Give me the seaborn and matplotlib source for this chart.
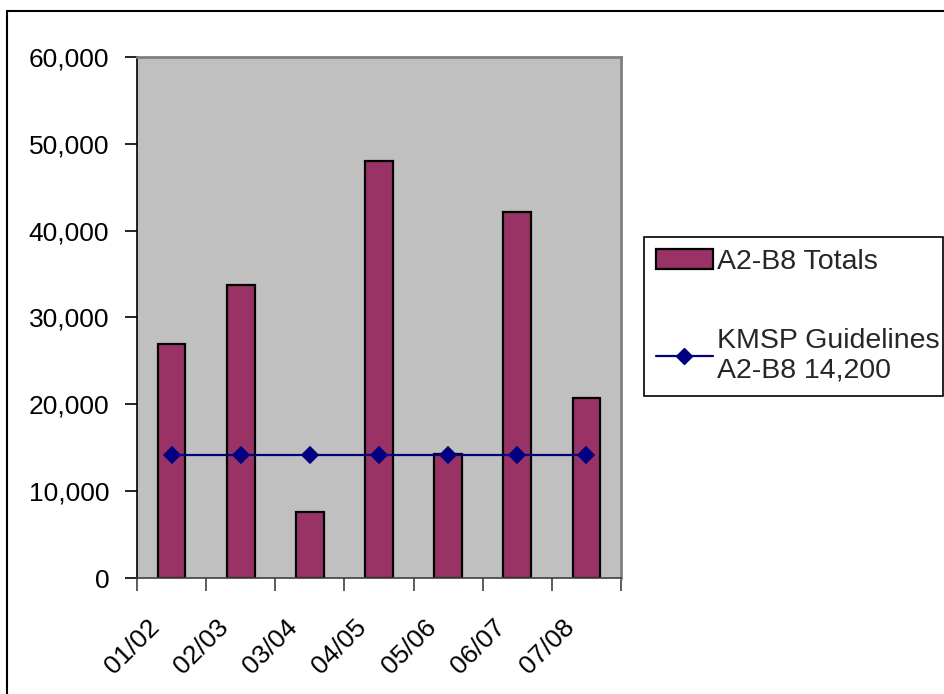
import matplotlib
matplotlib.use("Agg")
import matplotlib.pyplot as plt
import matplotlib.transforms as mtransforms
from matplotlib.lines import Line2D
from matplotlib.patches import Patch
from matplotlib.ticker import FuncFormatter, FixedLocator
import seaborn as sns
import pandas as pd

# Season totals and the KMSP guideline level
seasons = ["01/02", "02/03", "03/04", "04/05", "05/06", "06/07", "07/08"]
totals = [27000, 33700, 7600, 48000, 14300, 42100, 20700]
guideline = [14200, 14200, 14200, 14200, 14200, 14200, 14200]
y_ticks = [0, 10000, 20000, 30000, 40000, 50000, 60000]

bar_label = "A2-B8 Totals"
line_label = "KMSP Guidelines\nA2-B8 14,200"

sns.set_theme(style="white")
plt.rcParams["font.family"] = ["Liberation Sans", "DejaVu Sans"]

df = pd.DataFrame({"season": seasons, "total": totals, "guide": guideline})

W, H = 944, 694
fig = plt.figure(figsize=(W / 100, H / 100), dpi=100)
fig.patch.set_facecolor("white")
ax = fig.add_axes([137 / W, 1 - 578 / H, (621 - 137) / W, (578 - 57) / H])
ax.set_facecolor("#C0C0C0")

sns.barplot(data=df, x="season", y="total", color="#993366", saturation=1,
            edgecolor="black", linewidth=1.6, width=0.4, ax=ax, zorder=2)
sns.pointplot(data=df, x="season", y="guide", color="#000080", markers="D",
              markersize=8, linewidth=1.6, errorbar=None, ax=ax, zorder=3)

ax.set_xlim(-0.5, len(seasons) - 0.5)
ax.set_ylim(0, 60000)
ax.set_xlabel("")
ax.set_ylabel("")
ax.grid(False)

ax.set_yticks(y_ticks)
ax.yaxis.set_major_formatter(FuncFormatter(lambda v, p: f"{int(v):,}"))
ax.tick_params(axis="y", which="major", direction="out", length=9, width=1.2,
               color="black", pad=11, labelsize=19, left=True, labelcolor="black")

# Category boundaries carry the tick marks; labels sit at category centres
ax.xaxis.set_minor_locator(FixedLocator([i - 0.5 for i in range(len(seasons) + 1)]))
ax.tick_params(axis="x", which="minor", direction="out", length=9, width=1.2,
               color="#404040", bottom=True)
ax.tick_params(axis="x", which="major", length=0, pad=31, labelsize=19,
               labelcolor="black")
offset = mtransforms.ScaledTranslation(-16 / 100, -2 / 100, fig.dpi_scale_trans)
for lab in ax.get_xticklabels():
    lab.set_rotation(45)
    lab.set_ha("right")
    lab.set_va("center")
    lab.set_rotation_mode("anchor")
    lab.set_transform(lab.get_transform() + offset)

for side in ["top", "right", "bottom", "left"]:
    ax.spines[side].set_visible(True)
ax.spines["left"].set_color("black")
ax.spines["left"].set_linewidth(1.2)
ax.spines["bottom"].set_color("#404040")
ax.spines["bottom"].set_linewidth(1.2)
ax.spines["top"].set_color("#808080")
ax.spines["top"].set_linewidth(2)
ax.spines["right"].set_color("#808080")
ax.spines["right"].set_linewidth(2)

handles = [
    Patch(facecolor="#993366", edgecolor="black", linewidth=1.6, label=bar_label),
    Line2D([0], [0], color="#000080", marker="D", markersize=8, linewidth=1.6,
           label=line_label),
]
leg_top = 1 - 237 / H
leg = fig.legend(handles=handles, loc="upper left",
                 bbox_to_anchor=(644 / W, leg_top - 0.01, (943 - 644) / W, 0.01),
                 mode="expand", fontsize=20.5, frameon=True, fancybox=False,
                 edgecolor="black", framealpha=1, borderpad=0.42,
                 labelspacing=1.85, handlelength=2.0, handletextpad=0.15,
                 borderaxespad=0)
leg.get_frame().set_linewidth(1.2)

# Outer chart border (top and left edges visible)
fig.add_artist(Line2D([7 / W, 7 / W], [0, 1 - 11 / H], color="black",
                      linewidth=1.5, transform=fig.transFigure))
fig.add_artist(Line2D([7 / W, 1], [1 - 11 / H, 1 - 11 / H], color="black",
                      linewidth=1.5, transform=fig.transFigure))

fig.savefig("out.png", dpi=100)
